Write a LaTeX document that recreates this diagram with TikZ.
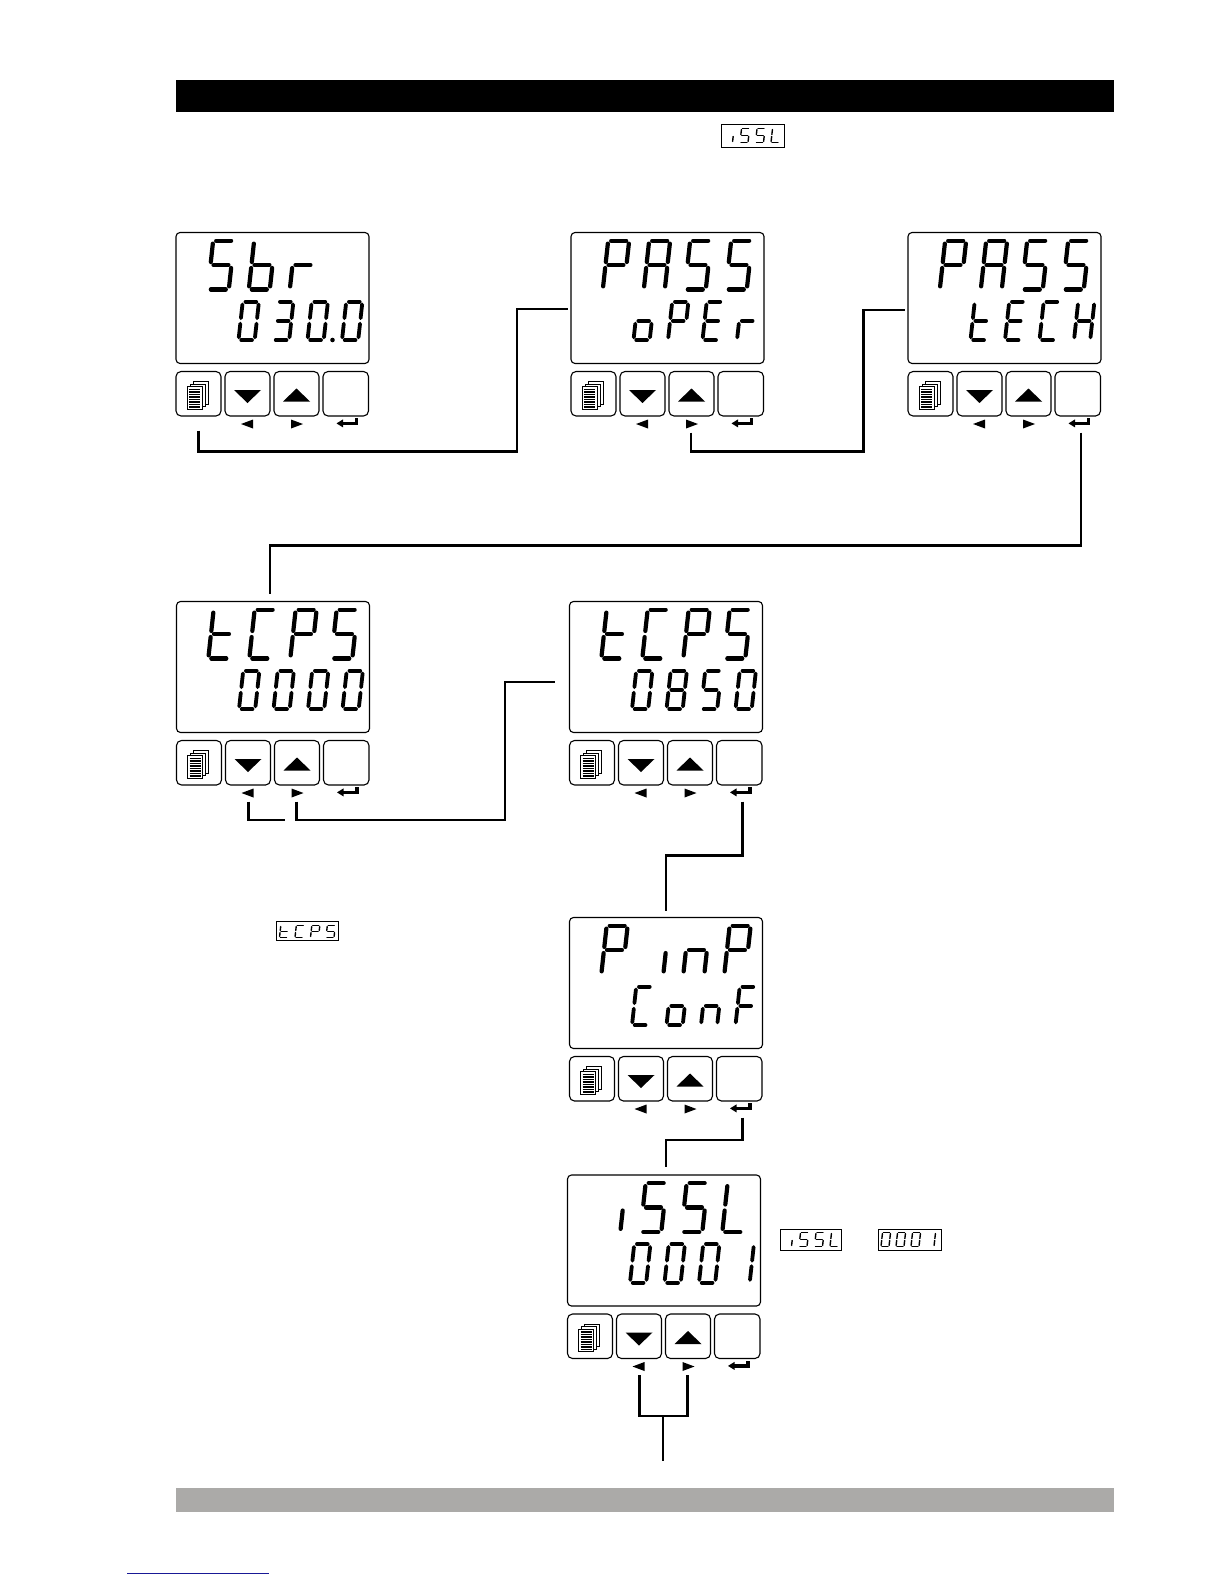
\documentclass[tikz,border=0pt]{standalone}
\usetikzlibrary{calc}
\definecolor{barGray}{RGB}{171,170,168}
\definecolor{linkBlue}{RGB}{25,25,150}
% seven-segment character: x, baseline y, width, height, line width, code (abcdefg)
\newcommand\sseg[6]{%
 \begin{scope}[shift={(#1,#2)},xslant=0.11,line cap=round,line width=#5pt]
  \def\sW{#3}\def\sH{#4}\pgfmathsetmacro\sg{#5*0.72}\pgfmathsetmacro\sHh{#4/2}%
  \expandafter\ssegdo#6\relax
 \end{scope}}
\def\ssegdo#1#2#3#4#5#6#7\relax{%
 \ifnum#1=1 \draw (\sg,-\sH) -- ({\sW-\sg},-\sH);\fi
 \ifnum#2=1 \draw (\sW,{-\sH+\sg}) -- (\sW,{-\sHh-\sg});\fi
 \ifnum#3=1 \draw (\sW,{-\sHh+\sg}) -- (\sW,-\sg);\fi
 \ifnum#4=1 \draw (\sg,0) -- ({\sW-\sg},0);\fi
 \ifnum#5=1 \draw (0,{-\sHh+\sg}) -- (0,-\sg);\fi
 \ifnum#6=1 \draw (0,{-\sH+\sg}) -- (0,{-\sHh-\sg});\fi
 \ifnum#7=1 \draw (\sg,-\sHh) -- ({\sW-\sg},-\sHh);\fi}
\def\cS{1011011}\def\cb{0011111}\def\cr{0000101}\def\cZ{1111110}
\def\cThree{1111001}\def\cP{1100111}\def\cA{1110111}\def\co{0011101}
\def\cE{1001111}\def\ct{0001111}\def\cC{1001110}\def\cH{0110111}
\def\cEight{1111111}\def\cn{0010101}\def\cF{1000111}\def\cL{0001110}
\def\cOne{0110000}\def\ci{0010000}\def\cBl{0000000}
\newcommand\toprow[4]{%
 \sseg{31.8}{56.9}{21}{48.8}{4.2}{#1}\sseg{72.8}{56.9}{21}{48.8}{4.2}{#2}%
 \sseg{113.8}{56.9}{21}{48.8}{4.2}{#3}\sseg{154.8}{56.9}{21}{48.8}{4.2}{#4}}
\newcommand\botrow[4]{%
 \sseg{62.5}{107.6}{16.2}{38.4}{3.8}{#1}\sseg{97}{107.6}{16.2}{38.4}{3.8}{#2}%
 \sseg{131.5}{107.6}{16.2}{38.4}{3.8}{#3}\sseg{166}{107.6}{16.2}{38.4}{3.8}{#4}}
% tiny row: first x, pitch, baseline, height, codes
\newcommand\tinyrow[8]{%
 \sseg{#1}{#3}{8}{#4}{1.4}{#5}\sseg{#1+#2}{#3}{8}{#4}{1.4}{#6}%
 \sseg{#1+2*#2}{#3}{8}{#4}{1.4}{#7}\sseg{#1+3*#2}{#3}{8}{#4}{1.4}{#8}}
\newcommand\devbody[1]{%
 \node[dispbox] (#1) at (0,0) {};
 \node[keybox] (#1-k1) at (0,139) {};
 \node[keybox] (#1-k2) at (49,139) {};
 \node[keybox] (#1-k3) at (98,139) {};
 \node[keybox,minimum width=45.5pt] (#1-k4) at (147,139) {};
 \begin{scope}[shift={(0,139)},line width=1pt]
  \filldraw[fill=white] (17,10) rectangle (32,32.5);
  \filldraw[fill=white] (14,12.5) rectangle (29,35);
  \filldraw[fill=white] (11,15) rectangle (26,37.5);
  \foreach \yy in {18,20.5,...,35.5} {\draw[line width=1.2pt] (13,\yy) -- (24,\yy);}
 \end{scope}
 \fill (58,157.5) -- (85,157.5) -- (71.5,170.5) -- cycle;
 \fill (107,169) -- (134,169) -- (120.5,156) -- cycle;
 \fill (65,191.5) -- (77,187) -- (77,196) -- cycle;
 \fill (115,187) -- (127,191.5) -- (115,196) -- cycle;
 \fill (160.5,190.9) -- (167,186.9) -- (167,194.9) -- cycle;
 \fill (166,189.2) rectangle (182.3,192.6);
 \fill (178.6,185.8) rectangle (182.3,192.6);
 \coordinate (#1-m) at (22.5,198);
 \coordinate (#1-l) at (72,200);
 \coordinate (#1-r) at (120,200);
 \coordinate (#1-e) at (173,200);
}
\begin{document}
\begin{tikzpicture}[x=1pt,y=-1pt,
  dispbox/.style={draw=black,line width=1.1pt,rounded corners=4pt,minimum width=193pt,minimum height=131pt,inner sep=0pt,outer sep=0pt,anchor=north west},
  keybox/.style={draw=black,line width=1.1pt,rounded corners=5pt,minimum width=45pt,minimum height=44.5pt,inner sep=0pt,outer sep=0pt,anchor=north west},
  smallbox/.style={draw=black,line width=1pt,inner sep=0pt,outer sep=0pt,anchor=north west},
  conn/.style={line width=2.4pt}]
\useasboundingbox (0,0) rectangle (1224,1584);
\fill[white] (0,0) rectangle (1224,1584);
% header and footer bars
\fill[black] (176,80) rectangle (1114,112.5);
\fill[barGray] (176,1488) rectangle (1114,1512);
\draw[linkBlue,line width=1.3pt] (127,1573.5) -- (268.5,1573.5);
% small boxed displays
\node[smallbox,minimum width=62.3pt,minimum height=22.3pt] (s1) at (721.7,125) {};
\tinyrow{724.5}{15.5}{142.4}{13.8}{\ci}{\cS}{\cS}{\cL}
\node[smallbox,minimum width=61.6pt,minimum height=18.3pt] (s2) at (276.7,921.7) {};
\tinyrow{279.5}{15.5}{937.4}{11.8}{\ct}{\cC}{\cP}{\cS}
\node[smallbox,minimum width=61pt,minimum height=20.7pt] (s3) at (780.7,1229.3) {};
\tinyrow{783.5}{15.5}{1246.4}{13.8}{\ci}{\cS}{\cS}{\cL}
\node[smallbox,minimum width=63.4pt,minimum height=20.7pt] (s4) at (878.3,1229.3) {};
\tinyrow{881}{15}{1246.4}{13.8}{\cZ}{\cZ}{\cZ}{\cOne}
% devices
\begin{scope}[shift={(176,232.5)}]
 \devbody{d1}\toprow{\cS}{\cb}{\cr}{\cBl}\botrow{\cZ}{\cThree}{\cZ}{\cZ}
 \fill (156.5,107.5) circle (2.3);
\end{scope}
\begin{scope}[shift={(571,232.5)}]
 \devbody{d2}\toprow{\cP}{\cA}{\cS}{\cS}\botrow{\co}{\cP}{\cE}{\cr}
\end{scope}
\begin{scope}[shift={(908,232.5)}]
 \devbody{d3}\toprow{\cP}{\cA}{\cS}{\cS}\botrow{\ct}{\cE}{\cC}{\cH}
\end{scope}
\begin{scope}[shift={(176.5,601.5)}]
 \devbody{d4}\toprow{\ct}{\cC}{\cP}{\cS}\botrow{\cZ}{\cZ}{\cZ}{\cZ}
\end{scope}
\begin{scope}[shift={(569.5,601.5)}]
 \devbody{d5}\toprow{\ct}{\cC}{\cP}{\cS}\botrow{\cZ}{\cEight}{\cS}{\cZ}
\end{scope}
\begin{scope}[shift={(569.5,917.5)}]
 \devbody{d6}\toprow{\cP}{\ci}{\cn}{\cP}\botrow{\cC}{\co}{\cn}{\cF}
\end{scope}
\begin{scope}[shift={(567.5,1175)}]
 \devbody{d7}\toprow{\ci}{\cS}{\cS}{\cL}\botrow{\cZ}{\cZ}{\cZ}{\cOne}
\end{scope}
% connector joints
\coordinate (j1) at (517,451.5); \coordinate (t2) at (568,309);
\coordinate (j2) at (863.5,451.5); \coordinate (t3) at (905,310);
\coordinate (j3) at (270,545.5); \coordinate (t4) at (270,594);
\coordinate (j4a) at (285,820);
\coordinate (j4b) at (505,820); \coordinate (t5) at (555,681.7);
\coordinate (j5) at (666,855.5); \coordinate (t6) at (666,911);
\coordinate (j6) at (666,1140); \coordinate (t7) at (666,1167);
\coordinate (j7) at (663,1416); \coordinate (t8) at (663,1461);
% connectors
\draw[conn] (d1-m) |- (j1) |- (t2);
\draw[conn] (d2-r) |- (j2) |- (t3);
\draw[conn] (d3-e) |- (j3) -- (t4);
\draw[conn] (d4-l) |- (j4a);
\draw[conn] (d4-r) |- (j4b) |- (t5);
\draw[conn] (d5-e) |- (j5) -- (t6);
\draw[conn] (d6-e) |- (j6) -- (t7);
\draw[conn] (d7-l) |- (j7) -| (d7-r);
\draw[conn] (j7) -- (t8);
\end{tikzpicture}
\end{document}
